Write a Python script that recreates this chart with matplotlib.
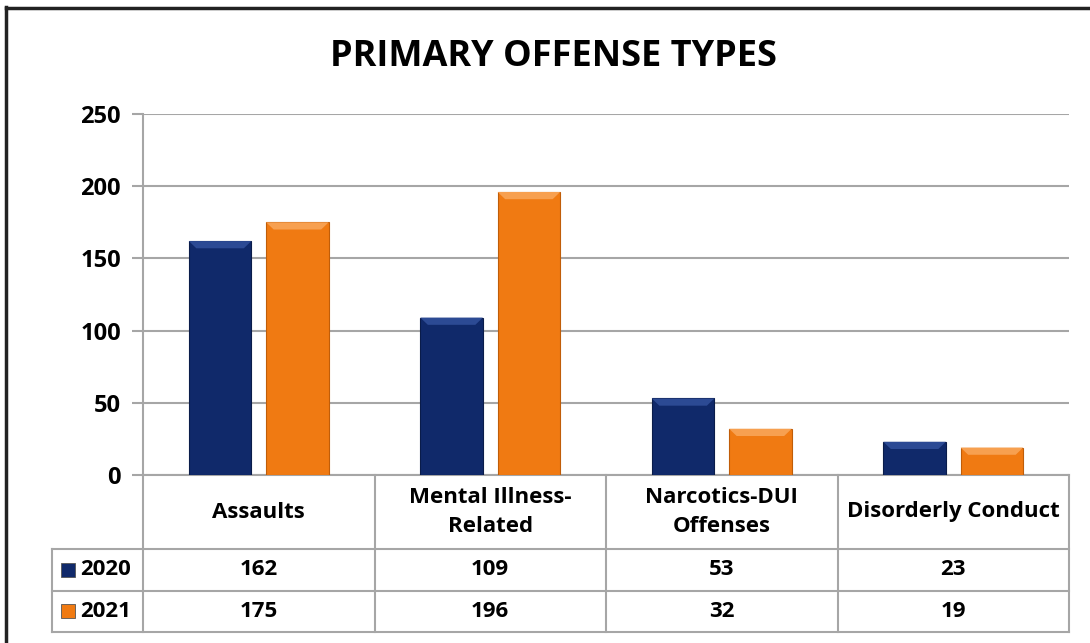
import matplotlib.pyplot as plt
import numpy as np
from matplotlib.lines import Line2D
from matplotlib.patches import Rectangle

plt.rcParams['font.family'] = ['Open Sans', 'DejaVu Sans']
plt.rcParams['font.weight'] = 'bold'

categories = ["Assaults", "Mental Illness-\nRelated", "Narcotics-DUI\nOffenses", "Disorderly Conduct"]
series = ["2020", "2021"]
values_2020 = [162, 109, 53, 23]
values_2021 = [175, 196, 32, 19]
yticks = [0, 50, 100, 150, 200, 250]

navy = "#10296a"
orange = "#f07a12"
grid_col = "#a6a6a6"
fs = 16

W, H = 1090, 643
fig = plt.figure(figsize=(W / 100, H / 100), dpi=100)

# plot area in pixels: x 143..1069, y 114..475
ax = fig.add_axes([143 / W, (H - 475) / H, 926 / W, 361 / H])

x = np.arange(len(categories))
bw = 0.27
off = 0.167
b1 = ax.bar(x - off, values_2020, bw, color=navy, edgecolor="#0a1c4a", linewidth=0.8, zorder=3)
b2 = ax.bar(x + off, values_2021, bw, color=orange, edgecolor="#c05d08", linewidth=0.8, zorder=3)

# light top bevel on each bar
for bars, light in ((b1, "#2c4a94"), (b2, "#f7a050")):
    for r in bars:
        x0, w, h = r.get_x(), r.get_width(), r.get_height()
        d = 0.12 * w
        dh = min(5, h * 0.3)
        ax.fill([x0, x0 + w, x0 + w - d, x0 + d], [h, h, h - dh, h - dh],
                color=light, zorder=4, lw=0)

ax.set_xlim(-0.5, len(categories) - 0.5)
ax.set_ylim(0, 250)
ax.set_yticks(yticks)
ax.set_yticklabels([str(t) for t in yticks], fontsize=17, fontweight="bold")
ax.set_xticks([])
ax.grid(axis="y", color=grid_col, linewidth=1.5, zorder=0)
for s in ("top", "right", "bottom"):
    ax.spines[s].set_visible(False)
ax.spines["left"].set_color(grid_col)
ax.spines["left"].set_linewidth(1.5)
ax.tick_params(axis="y", length=8, width=1.5, color=grid_col, pad=8)

# data table below the plot
ta = ax.transAxes
cat_h = 74 / 361
row_h = 41.5 / 361
left_x = (52 - 143) / 926
y_cat_bot = -cat_h
y_r1 = y_cat_bot - row_h
y_r2 = y_r1 - row_h
ncat = len(categories)

def hline(x0, x1, y):
    ax.add_line(Line2D([x0, x1], [y, y], transform=ta, color=grid_col, lw=1.5, clip_on=False))

def vline(xx, y0, y1):
    ax.add_line(Line2D([xx, xx], [y0, y1], transform=ta, color=grid_col, lw=1.5, clip_on=False))

hline(0, 1, 0)
hline(left_x, 1, y_cat_bot)
hline(left_x, 1, y_r1)
hline(left_x, 1, y_r2)
for i in range(ncat + 1):
    vline(i / ncat, y_r2, 0)
vline(left_x, y_r2, y_cat_bot)

for i, c in enumerate(categories):
    ax.text((i + 0.5) / ncat, y_cat_bot / 2, c, transform=ta, ha="center", va="center",
            fontsize=fs, fontweight="bold", linespacing=1.55)
for row_y, vals in ((y_cat_bot - row_h / 2, values_2020), (y_r1 - row_h / 2, values_2021)):
    for i, v in enumerate(vals):
        ax.text((i + 0.5) / ncat, row_y, str(v), transform=ta, ha="center", va="center",
                fontsize=fs, fontweight="bold")

# series labels with legend keys
for row_y, name, col in ((y_cat_bot - row_h / 2, series[0], navy), (y_r1 - row_h / 2, series[1], orange)):
    kx = (61 - 143) / 926
    kw = 14 / 926
    kh = 14 / 361
    ax.add_patch(Rectangle((kx, row_y - kh / 2), kw, kh, transform=ta, facecolor=col,
                           edgecolor="#555555", lw=0.6, clip_on=False))
    ax.text((80 - 143) / 926, row_y, name, transform=ta, ha="left", va="center",
            fontsize=fs, fontweight="bold")

# title
fig.text(553 / W, 1 - 57 / H, "PRIMARY OFFENSE TYPES", ha="center", va="center",
         fontsize=26, fontweight="bold")

# outer chart frame (only left and top visible)
fig.add_artist(Line2D([6 / W, 6 / W], [0, 1 - 7 / H], color="#222222", lw=2.5))
fig.add_artist(Line2D([6 / W, 1], [1 - 8 / H, 1 - 8 / H], color="#222222", lw=2.5))

fig.savefig("out.png", dpi=100)
